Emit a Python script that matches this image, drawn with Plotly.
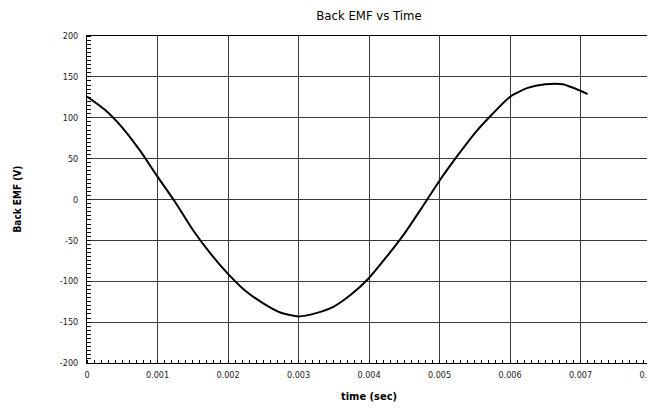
import plotly.graph_objects as go

time_s = [0, 0.00025, 0.0005, 0.00075, 0.001, 0.00125, 0.0015, 0.00175, 0.002,
          0.00225, 0.0025, 0.00275, 0.003, 0.00325, 0.0035, 0.00375, 0.004,
          0.00425, 0.0045, 0.00475, 0.005, 0.00525, 0.0055, 0.00575, 0.006,
          0.00625, 0.0065, 0.00675, 0.007, 0.0071]
back_emf = [126, 110, 88, 60, 28, -3, -37, -66, -91, -112, -127, -138.5, -143,
            -139, -131, -116, -96, -70, -42, -10, 23, 53, 81, 104.5, 125.6,
            136.5, 141, 141, 133, 129]

x_ticks = [0, 0.001, 0.002, 0.003, 0.004, 0.005, 0.006, 0.007, 0.008]
x_tick_text = ["0", "0.001", "0.002", "0.003", "0.004", "0.005", "0.006", "0.007", "0.008"]
y_ticks = [-200, -150, -100, -50, 0, 50, 100, 150, 200]
y_tick_text = ["-200", "-150", "-100", "-50", "0", "50", "100", "150", "200"]

FONT = "Liberation Sans Narrow, DejaVu Sans Condensed, Roboto Condensed, Arial Narrow, sans-serif"
# page body has an 8px default margin, so the figure is drawn 8px in from the top-left
OFF = 8
W, H = 655 - OFF, 408 - OFF
L, R, T, B = 87 - OFF, 4, 36 - OFF, 45
PW, PH = W - L - R, H - T - B

fig = go.Figure()
fig.add_trace(go.Scatter(x=time_s, y=back_emf, mode="lines",
                         line=dict(color="black", width=2, shape="spline", smoothing=0.6),
                         showlegend=False, hoverinfo="skip"))

fig.update_layout(
    width=W, height=H,
    margin=dict(l=L, r=R, t=T, b=B, autoexpand=False),
    paper_bgcolor="white", plot_bgcolor="white",
    font=dict(family=FONT, color="black", size=9),
    title=dict(text="Back EMF vs Time", x=(L + PW / 2) / W, xanchor="center",
               y=1 - (15 - OFF) / H, yanchor="middle",
               font=dict(family=FONT, size=13, color="black")),
    annotations=[
        dict(text="<b>time (sec)</b>", xref="paper", yref="paper",
             x=0.5, y=-(396 - 363) / PH, xanchor="center", yanchor="middle",
             showarrow=False, font=dict(family=FONT, size=11, color="black")),
        dict(text="<b>Back EMF (V)</b>", xref="paper", yref="paper",
             x=-(87 - 17) / PW, y=0.5, xanchor="center", yanchor="middle",
             textangle=-90, showarrow=False, font=dict(family=FONT, size=10, color="black")),
    ],
)
fig.update_xaxes(
    range=[0, 0.008], tickvals=x_ticks, ticktext=x_tick_text, automargin=False,
    showgrid=True, gridcolor="#3a3a3a", gridwidth=1,
    showline=True, linecolor="black", linewidth=1, mirror=True,
    ticks="", zeroline=False, ticklabelstandoff=3, ticklabeloverflow="allow",
    minor=dict(dtick=0.0001, tick0=0, ticks="inside", ticklen=3, tickcolor="black", showgrid=False),
    tickfont=dict(family=FONT, size=9, color="#222"),
)
fig.update_yaxes(
    range=[-200, 200], tickvals=y_ticks, ticktext=y_tick_text, automargin=False,
    showgrid=True, gridcolor="#3a3a3a", gridwidth=1,
    showline=True, linecolor="black", linewidth=1, mirror=True,
    ticks="", zeroline=False, ticklabelstandoff=6, ticklabeloverflow="allow",
    minor=dict(dtick=5, tick0=0, ticks="inside", ticklen=4, tickcolor="black", showgrid=False),
    tickfont=dict(family=FONT, size=9, color="#222"),
)

fig.write_html("out.html")
